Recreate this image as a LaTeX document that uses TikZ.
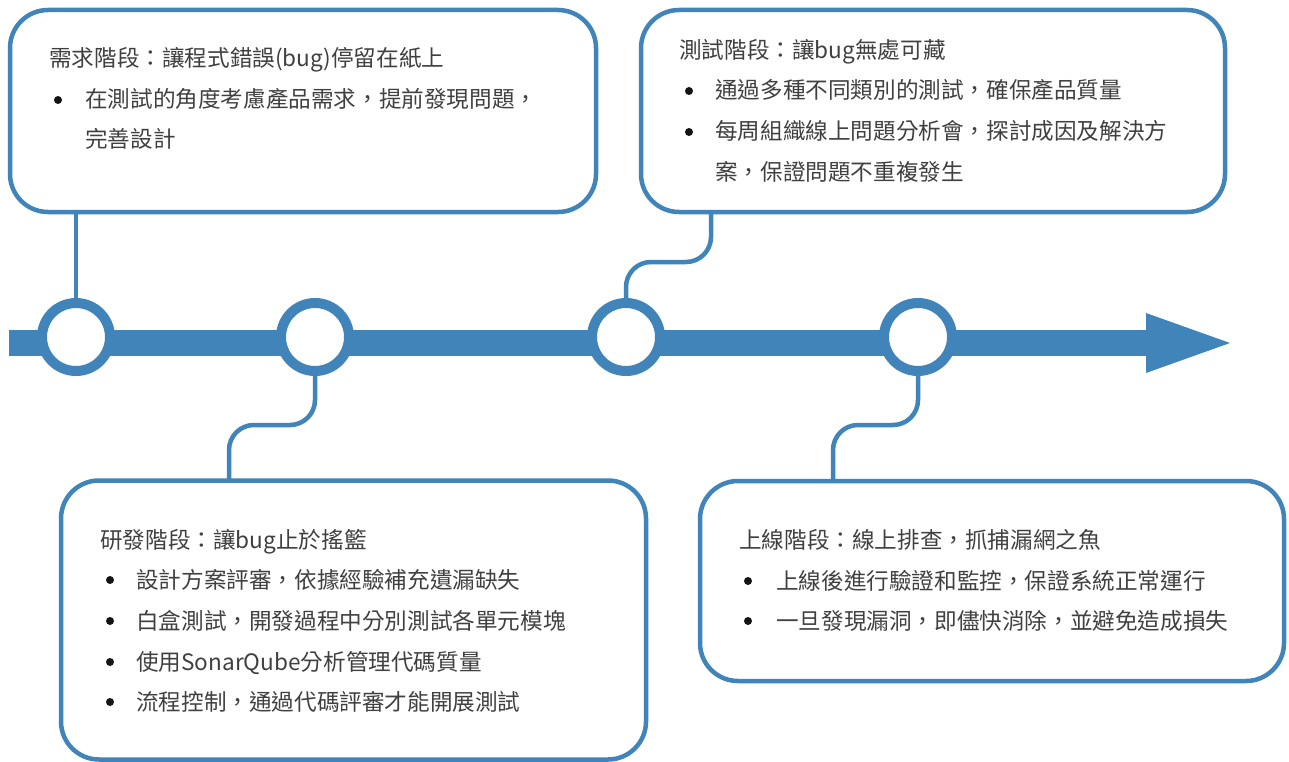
\documentclass[tikz,border=0pt]{standalone}
\usepackage{fontspec}
\setmainfont{Noto Sans CJK TC}
\usetikzlibrary{calc}
\definecolor{tlblue}{RGB}{64,132,186}
\definecolor{txtgray}{RGB}{64,64,64}
\definecolor{dotblack}{RGB}{20,20,20}
\begin{document}
\begin{tikzpicture}[x=1pt,y=-1pt,
  phasebox/.style={draw=tlblue,line width=4.5pt,rounded corners=38pt,fill=white,inner sep=0pt,outer sep=0pt},
  ring/.style={circle,draw=tlblue,line width=10pt,fill=white,minimum size=68pt,inner sep=0pt},
  conn/.style={draw=tlblue,line width=4.5pt,rounded corners=25pt},
  txt/.style={anchor=west,inner sep=0pt,text=txtgray,font=\fontsize{22.6pt}{27pt}\selectfont,text height=19pt,text depth=3pt},
  bul/.style={circle,fill=dotblack,inner sep=0pt,minimum size=8pt}
]
\useasboundingbox (0,0) rectangle (1289,762);
\fill[white] (0,0) rectangle (1289,762);

% boxes
\node[phasebox,minimum width=586pt,minimum height=202pt] (b1) at (303,111) {};
\node[phasebox,minimum width=584pt,minimum height=202pt] (b2) at (933,111) {};
\node[phasebox,minimum width=585pt,minimum height=279pt] (b3) at (353.5,620) {};
\node[phasebox,minimum width=584pt,minimum height=200pt] (b4) at (992,581) {};

% timeline bar and arrow head
\fill[tlblue] (9,330) rectangle (1148,356);
\fill[tlblue] (1146,313) -- (1230,343) -- (1146,373) -- cycle;

% rings
\node[ring] (c1) at (76,337) {};
\node[ring] (c2) at (315,337) {};
\node[ring] (c3) at (626,337) {};
\node[ring] (c4) at (918,337) {};

% connectors
\draw[conn] (c1.north) -- (c1.north |- b1.south);
\draw[conn] (c3.north) -- (c3.north |- 0,262) -- (711,262) -- (711,0 |- b2.south);
\draw[conn] (c2.south) -- (c2.south |- 0,425) -- (229,425) -- (229,0 |- b3.north);
\draw[conn] (c4.south) -- (c4.south |- 0,425) -- (833,425) -- (833,0 |- b4.north);

% box 1
\node[txt] (t1) at (49,59) {需求階段：讓程式錯誤(bug)停留在紙上};
\node[bul] (d11) at (58,100) {};
\node[txt] (t11) at (85,100) {在測試的角度考慮產品需求，提前發現問題，};
\node[txt] (t12) at (85,140) {完善設計};

% box 2
\node[txt] (t2) at (679,51) {測試階段：讓bug無處可藏};
\node[bul] (d21) at (689,91) {};
\node[txt] (t21) at (715,91) {通過多種不同類別的測試，確保產品質量};
\node[bul] (d22) at (689,132) {};
\node[txt] (t22) at (715,132) {每周組織線上問題分析會，探討成因及解決方};
\node[txt] (t23) at (715,172) {案，保證問題不重複發生};

% box 3
\node[txt] (t3) at (100,540) {研發階段：讓bug止於搖籃};
\node[bul] (d31) at (110,580) {};
\node[txt] (t31) at (136,580) {設計方案評審，依據經驗補充遺漏缺失};
\node[bul] (d32) at (110,621) {};
\node[txt] (t32) at (136,621) {白盒測試，開發過程中分別測試各單元模塊};
\node[bul] (d33) at (110,662) {};
\node[txt] (t33) at (136,662) {使用SonarQube分析管理代碼質量};
\node[bul] (d34) at (110,702) {};
\node[txt] (t34) at (136,702) {流程控制，通過代碼評審才能開展測試};

% box 4
\node[txt] (t4) at (739,540) {上線階段：線上排查，抓捕漏網之魚};
\node[bul] (d41) at (748,581) {};
\node[txt] (t41) at (776,581) {上線後進行驗證和監控，保證系統正常運行};
\node[bul] (d42) at (748,621) {};
\node[txt] (t42) at (776,621) {一旦發現漏洞，即儘快消除，並避免造成損失};
\end{tikzpicture}
\end{document}
